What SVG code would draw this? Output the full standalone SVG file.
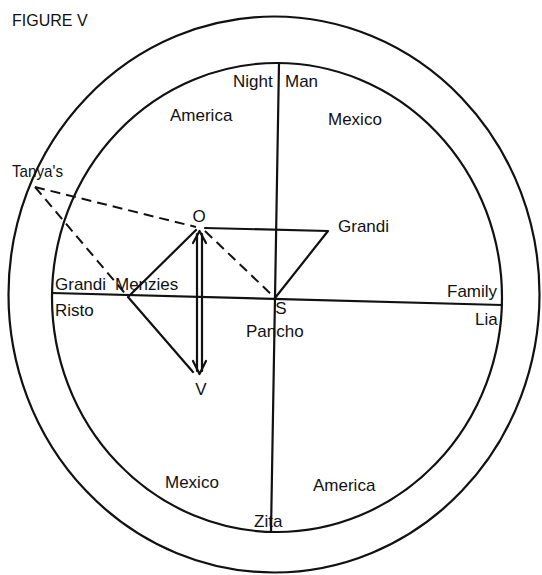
<svg xmlns="http://www.w3.org/2000/svg" width="542" height="575" viewBox="0 0 542 575">
<style>
  text { font-family: "Liberation Sans", Arial, sans-serif; font-size: 17px; fill: #111; }
  .ring { fill: none; stroke: #111; stroke-width: 2.2; }
  .ln { fill: none; stroke: #111; stroke-width: 2.2; stroke-linecap: round; stroke-linejoin: round; }
  .dash { fill: none; stroke: #111; stroke-width: 2; stroke-dasharray: 10 6; }
</style>
<rect width="542" height="575" fill="#fff"/>
<text id="title" x="12" y="26" style="font-size:16px">FIGURE V</text>

<g id="rings">
  <ellipse class="ring" cx="274" cy="294.5" rx="265.5" ry="278"/>
  <ellipse class="ring" cx="277" cy="297.5" rx="225" ry="234.5"/>
</g>

<g id="connectors">
  <line class="ln" x1="279" y1="63" x2="271" y2="532"/>
  <line class="ln" x1="52" y1="293" x2="502" y2="305"/>
  <polyline class="ln" points="205,228 328,231 275,298"/>
  <line class="dash" x1="205" y1="231" x2="273" y2="296"/>
  <line class="dash" x1="35" y1="187" x2="196" y2="227"/>
  <line class="dash" x1="35" y1="187" x2="128" y2="297"/>
  <polyline class="ln" points="196,230 128,297 193,372"/>
  <line class="ln" x1="197" y1="234" x2="197" y2="371"/>
  <line class="ln" x1="202" y1="234" x2="202" y2="371"/>
  <polyline class="ln" points="193,243 199.5,231 206,243"/>
  <polyline class="ln" points="193,361 199.5,374 206,361"/>
</g>

<g id="night-man"><text x="233" y="87">Night</text><text x="285" y="87">Man</text></g>
<g id="america-upper"><text x="170" y="121">America</text></g>
<g id="mexico-upper"><text x="328" y="125">Mexico</text></g>
<g id="tanyas"><text x="12" y="177" textLength="51" lengthAdjust="spacingAndGlyphs">Tanya's</text></g>
<g id="o"><text x="199" y="222" text-anchor="middle">O</text></g>
<g id="grandi-right"><text x="338" y="232">Grandi</text></g>
<g id="grandi-menzies"><text x="55" y="290">Grandi</text><text x="115" y="290">Menzies</text></g>
<g id="risto"><text x="55" y="316">Risto</text></g>
<g id="family"><text x="447" y="297">Family</text></g>
<g id="lia"><text x="475" y="325">Lia</text></g>
<g id="s"><text x="281" y="314" text-anchor="middle">S</text></g>
<g id="pancho"><text x="246" y="337">Pancho</text></g>
<g id="v"><text x="201" y="395" text-anchor="middle">V</text></g>
<g id="mexico-lower"><text x="165" y="488">Mexico</text></g>
<g id="america-lower"><text x="313" y="491">America</text></g>
<g id="zita"><text x="254" y="527">Zita</text></g>
</svg>
